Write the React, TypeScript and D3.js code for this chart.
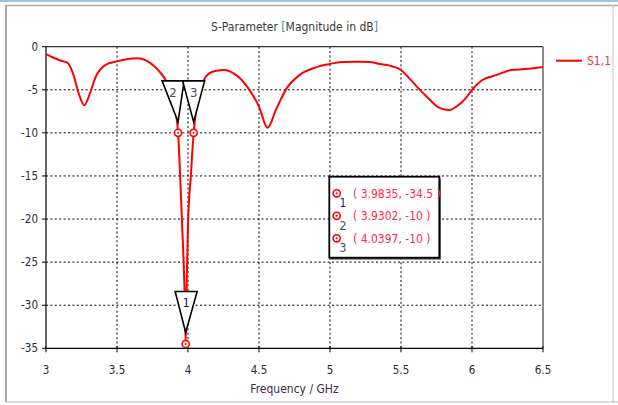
import React from "react";
import * as d3 from "d3";

const freq = [3.0, 3.05, 3.1, 3.15, 3.19, 3.23, 3.27, 3.31, 3.35, 3.42, 3.5, 3.57, 3.64, 3.73, 3.8, 3.85, 3.9, 3.93, 3.958, 3.975, 3.9835, 3.99, 4.0, 4.02, 4.0397, 4.08, 4.12, 4.15, 4.2, 4.25, 4.34, 4.43, 4.5, 4.56, 4.62, 4.69, 4.785, 4.9, 5.0, 5.08, 5.2, 5.28, 5.35, 5.42, 5.5, 5.56, 5.63, 5.7, 5.77, 5.84, 5.89, 5.955, 6.0, 6.07, 6.17, 6.28, 6.37, 6.43, 6.5];
const s11 = [-0.85, -1.25, -1.6, -1.85, -3.1, -5.4, -6.8, -5.4, -3.5, -2.1, -1.7, -1.45, -1.35, -1.85, -2.9, -4.1, -6.5, -10, -20.5, -28, -34.5, -28, -20.5, -15, -10, -5.5, -3.6, -3.1, -2.8, -2.7, -3.3, -4.95, -6.95, -9.4, -7.3, -4.95, -3.3, -2.4, -2.0, -1.78, -1.75, -1.78, -2.0, -2.2, -2.7, -3.7, -4.95, -6.1, -7.1, -7.35, -6.95, -6.0, -5.0, -3.9, -3.3, -2.7, -2.6, -2.5, -2.35];

const xTicks = [3, 3.5, 4, 4.5, 5, 5.5, 6, 6.5];
const yTicks = [0, -5, -10, -15, -20, -25, -30, -35];

const markerIds = ["1", "2", "3"];
const markerFreq = [3.9835, 3.9302, 4.0397];
const markerVal = [-34.5, -10, -10];
const markerText = ["( 3.9835, -34.5 )", "( 3.9302, -10 )", "( 4.0397, -10 )"];

const seriesName = "S1,1";
const titleMain = "S-Parameter ";
const titleBracket = "[Magnitude in dB]";
const xTitle = "Frequency / GHz";

const FONT = "'DejaVu Sans Condensed', 'DejaVu Sans', sans-serif";
const RED = "#ff0000";
const TXTRED = "#ff2a4a";

export default function App() {
  const W = 618, H = 405;
  const L = 46, R = 543, T = 46.7, B = 348.3;
  const x = d3.scaleLinear().domain([3, 6.5]).range([L, R]);
  const y = d3.scaleLinear().domain([-35, 0]).range([B, T]);
  const pts = freq.map((f, i) => [f, s11[i]] as [number, number]);
  const line = d3.line<[number, number]>().x(d => x(d[0])).y(d => y(d[1])).curve(d3.curveMonotoneX);

  // triangle label offsets (relative top midpoint shift)
  const triShift = [0.5, -5, 0];
  const triAbove = [11.5, 11, 11];

  const markerCircle = (cx: number, cy: number, key: string) => (
    <g key={key}>
      <circle cx={cx} cy={cy} r={3.6} fill="#fff" stroke={RED} strokeWidth={1.6} />
      <circle cx={cx} cy={cy} r={1} fill={RED} />
    </g>
  );

  return (
    <svg width={W} height={H} style={{ position: "absolute", left: 0, top: 0, background: "#fff" }} fontFamily={FONT}>
      {/* window frame */}
      <line x1={0} x2={W} y1={1} y2={1} stroke="#9cc3e6" strokeWidth={2} />
      <line x1={6} x2={W} y1={5.5} y2={5.5} stroke="#a8a8a8" strokeWidth={1.5} />
      <line x1={6} x2={6} y1={5} y2={402} stroke="#a8a8a8" strokeWidth={2} />
      <line x1={6} x2={W} y1={402} y2={402} stroke="#d0d0d0" strokeWidth={1.5} />
      <line x1={613} x2={613} y1={5} y2={402} stroke="#c8c8c8" strokeWidth={1} />

      {/* title */}
      <text x={(L + R) / 2} y={31} textAnchor="middle" fontSize={12} fill="#3a3a3a">
        {titleMain}
        <tspan fill="#3a8fc4">[</tspan>
        <tspan fill="#3a3a3a">{titleBracket.slice(1, -1)}</tspan>
        <tspan fill="#3a8fc4">]</tspan>
      </text>

      {/* grid */}
      {xTicks.slice(1, -1).map(t => (
        <line key={"gx" + t} x1={x(t)} x2={x(t)} y1={T} y2={B} stroke="#000" strokeWidth={1} strokeDasharray="2,2.4" />
      ))}
      {yTicks.slice(1, -1).map(t => (
        <line key={"gy" + t} x1={L} x2={R} y1={y(t)} y2={y(t)} stroke="#000" strokeWidth={1} strokeDasharray="2,2.4" />
      ))}

      {/* plot border */}
      <line x1={L} x2={R} y1={T} y2={T} stroke="#303030" strokeWidth={1.2} />
      <line x1={R} x2={R} y1={T} y2={B} stroke="#8a8a8a" strokeWidth={2} />
      <line x1={L} x2={L} y1={T} y2={B + 0.5} stroke="#000" strokeWidth={1.2} />
      <line x1={L} x2={R} y1={B} y2={B} stroke="#000" strokeWidth={1.2} />

      {/* ticks */}
      {xTicks.map(t => (
        <g key={"tx" + t}>
          <line x1={x(t)} x2={x(t)} y1={B - 2} y2={B + 4} stroke="#000" strokeWidth={1} />
          <text x={x(t)} y={374} textAnchor="middle" fontSize={11.5} fill="#2a2a40">{String(t)}</text>
        </g>
      ))}
      {yTicks.map(t => (
        <g key={"ty" + t}>
          <line x1={L - 4} x2={L} y1={y(t)} y2={y(t)} stroke="#000" strokeWidth={1} />
          <text x={38} y={y(t) + 4} textAnchor="end" fontSize={11.5} fill="#2a2a40">{String(t)}</text>
        </g>
      ))}

      <text x={(L + R) / 2} y={393} textAnchor="middle" fontSize={12} fill="#3a2a48">{xTitle}</text>

      {/* curve */}
      <path d={line(pts) || ""} fill="none" stroke={RED} strokeWidth={2} strokeLinejoin="round" />

      {/* marker triangles */}
      {markerIds.map((id, i) => {
        const ax = x(markerFreq[i]);
        const ay = y(markerVal[i]) - triAbove[i];
        const mx = ax + triShift[i];
        const top = ay - 41;
        const pts = `${mx - 11},${top} ${mx + 11},${top} ${ax},${ay}`;
        return (
          <g key={"tri" + id}>
            <polygon points={pts} fill="#fff" stroke="#000" strokeWidth={1.6} strokeLinejoin="miter" />
            <text x={mx} y={top + 16} textAnchor="middle" fontSize={13} fill={i === 0 ? "#1a1a6a" : "#3a4a6a"}>{id}</text>
          </g>
        );
      })}

      {/* marker circles */}
      {markerIds.map((id, i) => markerCircle(x(markerFreq[i]), y(markerVal[i]), "mc" + id))}

      {/* info box */}
      <rect x={331} y={178.7} width={110} height={81} fill="#6a6a6a" />
      <rect x={329.3} y={176.7} width={110} height={81} fill="#fff" stroke="#000" strokeWidth={1.8} />
      {markerIds.map((id, i) => {
        const cy = 193.3 + i * 22.5;
        return (
          <g key={"info" + id}>
            {markerCircle(336.7, cy, "ic" + id)}
            <text x={339.5} y={cy + 14} fontSize={12} fill={i === 0 ? "#1a1a6a" : "#3a4a6a"}>{id}</text>
            <text x={353} y={cy + 4.5} fontSize={12} fill={TXTRED}>{markerText[i]}</text>
          </g>
        );
      })}

      {/* legend */}
      <line x1={556} x2={582} y1={60.7} y2={60.7} stroke={RED} strokeWidth={2} />
      <text x={587} y={65} fontSize={12} fill={TXTRED}>{seriesName}</text>
    </svg>
  );
}
